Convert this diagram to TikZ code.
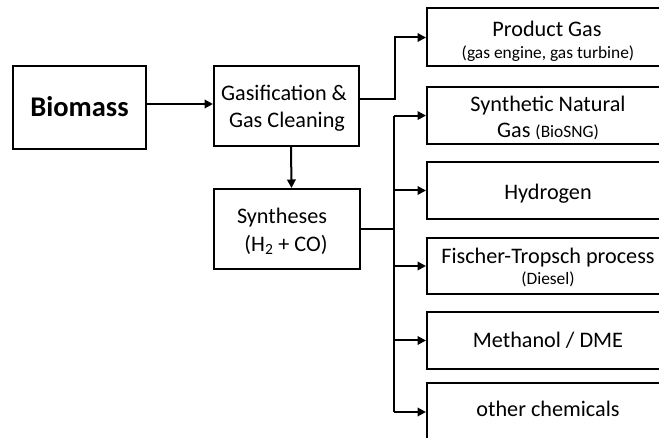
\documentclass[tikz,border=0pt]{standalone}
\usepackage{fontspec}
\setmainfont{Carlito}
\usetikzlibrary{arrows.meta,calc}
\tikzset{
  box/.style={draw=black, line width=2pt, fill=white, inner sep=0pt},
  txt/.style={anchor=base, inner sep=0pt, font=\fontsize{22.2}{26}\selectfont},
  stxt/.style={anchor=base, inner sep=0pt, font=\fontsize{17.4}{20}\selectfont},
  arr/.style={line width=2pt, -{Triangle[length=8.5pt,width=8.5pt]}},
  ln/.style={line width=2pt},
}
\newcommand{\sm}{\fontsize{17.4}{20}\selectfont}
\begin{document}
\begin{tikzpicture}[x=1pt,y=-1pt]
\path[use as bounding box] (0,0) rectangle (659,438);
\clip (0,0) rectangle (659,438);
\fill[white] (0,0) rectangle (659,438);
% boxes
\node[box, minimum width=133pt, minimum height=83pt] (bio) at (79.5,107.2) {};
\node[box, minimum width=145pt, minimum height=80pt] (gas) at (286.5,105.8) {};
\node[box, minimum width=146pt, minimum height=80pt] (syn) at (287,229) {};
\node[box, minimum width=242pt, minimum height=58pt] (prod) at (548,37.5) {};
\node[box, minimum width=242pt, minimum height=57pt] (sng) at (548,115.6) {};
\node[box, minimum width=242pt, minimum height=57pt] (hyd) at (548,190.5) {};
\node[box, minimum width=242pt, minimum height=56pt] (ft) at (548,266) {};
\node[box, minimum width=242pt, minimum height=57pt] (meth) at (548,340.5) {};
\node[box, minimum width=242pt, minimum height=58pt] (oth) at (548,412) {};
% texts
\node[txt, font=\fontsize{28.5}{32}\selectfont\bfseries] (biot) at (79.5,116.7) {Biomass};
\node[txt] (gast1) at (284,100.5) {Gasification \&};
\node[txt] (gast2) at (287,127.2) {Gas Cleaning};
\node[txt] (synt1) at (282,223.4) {Syntheses};
\node[txt] (synt2) at (286,251.6) {(H\textsubscript{2} + CO)};
\node[txt] (prodt1) at (547,36.6) {Product Gas};
\node[stxt] (prodt2) at (548,59) {(gas engine, gas turbine)};
\node[txt] (sngt1) at (548,111.6) {Synthetic Natural};
\node[txt] (sngt2) at (548,137.2) {Gas {\sm (BioSNG)}};
\node[txt] (hydt) at (548,199.2) {Hydrogen};
\node[txt] (ftt1) at (548,263.4) {Fischer-Tropsch process};
\node[stxt] (ftt2) at (548,284.4) {(Diesel)};
\node[txt] (metht) at (548,347.6) {Methanol / DME};
\node[txt] (otht) at (548,417) {other chemicals};
% connectors
\draw[arr] ([yshift=3.2pt]bio.east) -- ([yshift=3.2pt]gas.west |- bio.east);
\draw[arr] ([xshift=4.5pt]gas.south) -- ([xshift=4.5pt]syn.north);
\coordinate (j1) at (395,99);
\draw[arr] ([yshift=6.8pt]gas.east) -- (j1) |- (prod.west);
\coordinate (bus) at (394,229);
\draw[ln] (syn.east) -- (bus);
\draw[ln] (bus |- sng.west) -- (bus |- oth.west);
\draw[arr] (bus |- sng.west) -- (sng.west);
\draw[arr] (bus |- hyd.west) -- (hyd.west);
\draw[arr] (bus |- ft.west) -- (ft.west);
\draw[arr] (bus |- meth.west) -- (meth.west);
\draw[arr] (bus |- oth.west) -- (oth.west);
\end{tikzpicture}
\end{document}
